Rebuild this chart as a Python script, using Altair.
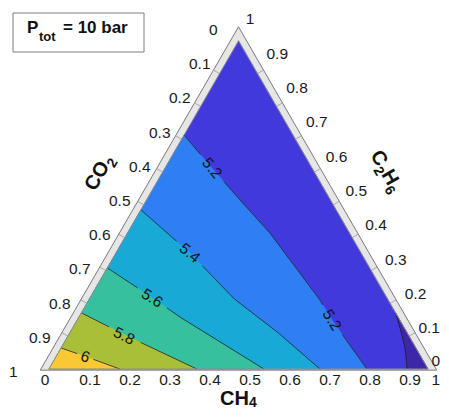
import math
import altair as alt
import pandas as pd

# ---------------- data (ternary fractions: CH4, C2H6; CO2 = remainder) ----------------
B50_CH4 = [0.83, 0.875, 0.91, 0.945]
B50_C2H6 = [0.17, 0.11, 0.06, 0.0]
B52_CH4 = [0.0, 0.124, 0.2465, 0.376, 0.61, 0.672, 0.839]
B52_C2H6 = [0.713, 0.612, 0.515, 0.414, 0.21, 0.149, 0.0]
B54_CH4 = [0.0, 0.2, 0.38, 0.55, 0.715]
B54_C2H6 = [0.485, 0.35, 0.215, 0.11, 0.0]
B56_CH4 = [0.0, 0.17, 0.267, 0.567]
B56_C2H6 = [0.308, 0.214, 0.158, 0.0]
B58_CH4 = [0.0, 0.15, 0.39]
B58_C2H6 = [0.171, 0.103, 0.0]
B60_CH4 = [0.0, 0.095, 0.187]
B60_C2H6 = [0.064, 0.032, 0.0]

BAND_NAMES = ["5.0-5.2", "<5.0", "5.2-5.4", "5.4-5.6", "5.6-5.8", "5.8-6.0", ">6.0"]
BAND_COLORS = ["#4239dd", "#3d27a8", "#2e7ff4", "#18a9d6", "#36c09d", "#aabf38", "#f9c834"]

CONTOUR_TEXT = ["6", "5.8", "5.6", "5.4", "5.2", "5.2"]
CONTOUR_LINE = ["6.0", "5.8", "5.6", "5.4", "5.2", "5.2"]
CONTOUR_CH4 = [0.077, 0.148, 0.164, 0.195, 0.124, 0.672]
CONTOUR_C2H6 = [0.037, 0.1005, 0.216, 0.353, 0.612, 0.149]
CONTOUR_ANGLE = [20, 26, 33, 40, 50, 58]

TICKS = [0, 0.1, 0.2, 0.3, 0.4, 0.5, 0.6, 0.7, 0.8, 0.9, 1]
TICK_TEXT = ["0", "0.1", "0.2", "0.3", "0.4", "0.5", "0.6", "0.7", "0.8", "0.9", "1"]

# ---------------- layout ----------------
W, H = 433, 401
PX = 379.0              # pixels per unit side length
ORX, ORY = 49.0, 369.0  # page position of the CO2 corner
S3 = math.sqrt(3) / 2
FONT = "Liberation Sans"
TICK_FS = 15.5

xdom = [(8 - ORX) / PX, (8 + W - ORX) / PX]
ydom = [(ORY - 8 - H) / PX, (ORY - 8) / PX]
XS = alt.Scale(domain=xdom, nice=False, zero=False)
YS = alt.Scale(domain=ydom, nice=False, zero=False)


def page_xy(px, py):
    return (px - ORX) / PX, (ORY - py) / PX


def to_xy(a, c):
    return a + c / 2, c * S3


def enc_xy():
    return dict(x=alt.X("X:Q", scale=XS, axis=None), y=alt.Y("Y:Q", scale=YS, axis=None))


# filled regions (painted in order)
regions = [
    ("5.0-5.2", [0, 1, 0], [0, 0, 1]),
    ("<5.0", [1] + B50_CH4, [0] + B50_C2H6),
    ("5.2-5.4", [0] + B52_CH4, [0] + B52_C2H6),
    ("5.4-5.6", [0] + B54_CH4, [0] + B54_C2H6),
    ("5.6-5.8", [0] + B56_CH4, [0] + B56_C2H6),
    ("5.8-6.0", [0] + B58_CH4, [0] + B58_C2H6),
    (">6.0", [0] + B60_CH4, [0] + B60_C2H6),
]
rows = []
for name, a, c in regions:
    for i, (aa, cc) in enumerate(zip(a, c)):
        X, Y = to_xy(aa, cc)
        rows.append(dict(region=name, i=i, X=X, Y=Y))
poly_df = pd.DataFrame(rows)

# contour lines, broken where the inline labels sit
lines = {"5.0": (B50_CH4, B50_C2H6), "5.2": (B52_CH4, B52_C2H6), "5.4": (B54_CH4, B54_C2H6),
         "5.6": (B56_CH4, B56_C2H6), "5.8": (B58_CH4, B58_C2H6), "6.0": (B60_CH4, B60_C2H6)}


def split(pts, cx, cy, r):
    def inside(p):
        return (p[0] - cx) ** 2 + (p[1] - cy) ** 2 < r * r
    pieces, cur = [], ([] if inside(pts[0]) else [pts[0]])
    for p0, p1 in zip(pts[:-1], pts[1:]):
        dx, dy = p1[0] - p0[0], p1[1] - p0[1]
        fx, fy = p0[0] - cx, p0[1] - cy
        A = dx * dx + dy * dy
        B = 2 * (fx * dx + fy * dy)
        C = fx * fx + fy * fy - r * r
        disc = B * B - 4 * A * C
        ts = []
        if disc > 0 and A > 0:
            sq = math.sqrt(disc)
            ts = sorted(t for t in ((-B - sq) / (2 * A), (-B + sq) / (2 * A)) if 0 < t < 1)
        for t in ts:
            q = (p0[0] + t * dx, p0[1] + t * dy)
            if cur:
                cur.append(q)
                pieces.append(cur)
                cur = []
            else:
                cur = [q]
        if cur:
            cur.append(p1)
    if len(cur) > 1:
        pieces.append(cur)
    return pieces


polys = {k: [[to_xy(a, c) for a, c in zip(*v)]] for k, v in lines.items()}
for t, ln, a, c in zip(CONTOUR_TEXT, CONTOUR_LINE, CONTOUR_CH4, CONTOUR_C2H6):
    cx, cy = to_xy(a, c)
    r = (len(t) * 4.6 + 4) / PX
    new = []
    for p in polys[ln]:
        new += split(p, cx, cy, r)
    polys[ln] = new
lrows = []
for k, plist in polys.items():
    for j, p in enumerate(plist):
        for i, (X, Y) in enumerate(p):
            lrows.append(dict(line=f"{k}-{j}", i=i, X=X, Y=Y))
line_df = pd.DataFrame(lrows)

layers = []

# grey frame (outer triangle)
d, b = 0.0185, 0.003
xl = (-0.5 * b - d) / S3
xr = 1 + (d + 0.5 * b) / S3
frame_df = pd.DataFrame(dict(X=[xl, xr, 0.5, xl], Y=[-b, -b, S3 + 2 * d, -b], i=[0, 1, 2, 3]))
layers.append(alt.Chart(frame_df).mark_line(fill="#e6e6e6", stroke="#7a7a7a", strokeWidth=1)
              .encode(order="i:Q", **enc_xy()))

# band ticks on left / right frame
trows = []
for v in TICKS[1:-1]:
    c = 1 - v
    x0, y0 = c / 2, c * S3
    trows.append(dict(X=x0, Y=y0, X2=x0 - S3 * d, Y2=y0 + 0.5 * d))
    x0, y0 = 1 - v / 2, v * S3
    trows.append(dict(X=x0, Y=y0, X2=x0 + S3 * d, Y2=y0 + 0.5 * d))
tick_df = pd.DataFrame(trows)
layers.append(alt.Chart(tick_df).mark_rule(color="#a8a8a8", strokeWidth=1).encode(
    x2="X2:Q", y2="Y2:Q", **enc_xy()))

for name, col in zip(BAND_NAMES, BAND_COLORS):
    ch = alt.Chart(poly_df).transform_filter(alt.datum.region == name)
    ch = ch.mark_line(fill=col, stroke=col, strokeWidth=0.6).encode(order="i:Q", **enc_xy())
    layers.append(ch)

# contour lines
layers.append(alt.Chart(line_df).mark_line(stroke="#1e1e28", strokeWidth=0.8).encode(
    order="i:Q", detail="line:N", **enc_xy()))

# inner edge outline
edge_df = pd.DataFrame([dict(i=i, X=to_xy(a, c)[0], Y=to_xy(a, c)[1])
                        for i, (a, c) in enumerate([(0, 0), (1, 0), (0, 1), (0, 0)])])
layers.append(alt.Chart(edge_df).mark_line(stroke="#8c8c8c", strokeWidth=1).encode(
    order="i:Q", **enc_xy()))

# contour labels
clab_df = pd.DataFrame(dict(t=CONTOUR_TEXT, ch4=CONTOUR_CH4, c2h6=CONTOUR_C2H6, ang=CONTOUR_ANGLE))
layers.append(alt.Chart(clab_df).transform_calculate(
    X="datum.ch4 + datum.c2h6 / 2", Y=f"datum.c2h6 * {S3}"
).mark_text(font=FONT, fontSize=15.5, color="#111111", align="center", baseline="middle").encode(
    text="t:N", angle=alt.Angle("ang:Q", scale=None), **enc_xy()))


# tick labels
def twidth(t):
    return sum(0.278 if ch == "." else 0.556 for ch in t) * TICK_FS


RIGHT_LIMIT = 8 + W - 1  # keep labels inside the drawing
left_rows, ctr_rows = [], []
for v, t in zip(TICKS, TICK_TEXT):
    X, Y = page_xy(9 + 200 * (1 - v), 372 - 342 * (1 - v))
    left_rows.append(dict(t=t, X=X, Y=Y))
    if v == 1:
        px, py = 250, 19
    elif v == 0:
        px, py = 443, 361
    else:
        px, py = 297 + (0.8 - v) * 197.5, 88 + (0.8 - v) * 343
    px = min(px, RIGHT_LIMIT - twidth(t) / 2)
    X, Y = page_xy(px, py)
    ctr_rows.append(dict(t=t, X=X, Y=Y))
    if v == 0:
        px = 45
    elif v == 1:
        px = 438
    else:
        px = 50 + 400 * v
    px = min(px, RIGHT_LIMIT - twidth(t) / 2)
    X, Y = page_xy(px, 380)
    ctr_rows.append(dict(t=t, X=X, Y=Y))
layers.append(alt.Chart(pd.DataFrame(left_rows)).mark_text(
    font=FONT, fontSize=TICK_FS, color="#1a1a1a", align="left", baseline="middle").encode(text="t:N", **enc_xy()))
layers.append(alt.Chart(pd.DataFrame(ctr_rows)).mark_text(
    font=FONT, fontSize=TICK_FS, color="#1a1a1a", align="center", baseline="middle").encode(text="t:N", **enc_xy()))

# axis titles with subscripts
WID = {"C": 0.722, "O": 0.778, "H": 0.722, "2": 0.556, "4": 0.556, "6": 0.556}


def title(pieces, sx, sy, theta, drop_px=5.0):
    th = math.radians(theta)
    u = (math.cos(th), math.sin(th))
    n = (-math.sin(th), math.cos(th))
    out = []
    adv = 0.0
    for text, size, sub in pieces:
        drop = drop_px if sub else 0.0
        px = sx + u[0] * adv + n[0] * drop
        py = sy + u[1] * adv + n[1] * drop
        X, Y = page_xy(px, py)
        out.append(dict(t=text, X=X, Y=Y, s=size, a=theta % 360))
        adv += sum(WID[ch] for ch in text) * size
    return out


trows = []
trows += title([("CO", 20, False), ("2", 14, True)], 95, 192, -60)
trows += title([("C", 20, False), ("2", 14, True), ("H", 20, False), ("6", 14, True)], 370, 155, 60)
trows += title([("CH", 20, False), ("4", 14, True)], 220, 404.5, 0, drop_px=2.5)
layers.append(alt.Chart(pd.DataFrame(trows)).mark_text(
    font=FONT, fontWeight="bold", color="#111111", align="left", baseline="alphabetic").encode(
    text="t:N", size=alt.Size("s:Q", scale=None), angle=alt.Angle("a:Q", scale=None), **enc_xy()))

# annotation box
one = pd.DataFrame({"k": [0]})
layers.append(alt.Chart(one).mark_rect(
    fill="white", stroke="#7f7f7f", strokeWidth=1).encode(
    x=alt.value(5), x2=alt.value(136), y=alt.value(5), y2=alt.value(44)))
layers.append(alt.Chart(one).mark_text(
    font=FONT, fontWeight="bold", fontSize=17, color="#111111", align="left", baseline="alphabetic",
    text="P").encode(x=alt.value(19), y=alt.value(25)))
layers.append(alt.Chart(one).mark_text(
    font=FONT, fontWeight="bold", fontSize=13, color="#111111", align="left", baseline="alphabetic",
    text="tot").encode(x=alt.value(31), y=alt.value(33)))
layers.append(alt.Chart(one).mark_text(
    font=FONT, fontWeight="bold", fontSize=17, color="#111111", align="left", baseline="alphabetic",
    text="= 10 bar").encode(x=alt.value(55), y=alt.value(25)))

chart = alt.layer(*layers).properties(
    width=W, height=H, padding=0, autosize=alt.AutoSizeParams(type="none")
).configure_view(stroke=None)

chart.save("out.html", embed_options={"renderer": "svg", "actions": False})
